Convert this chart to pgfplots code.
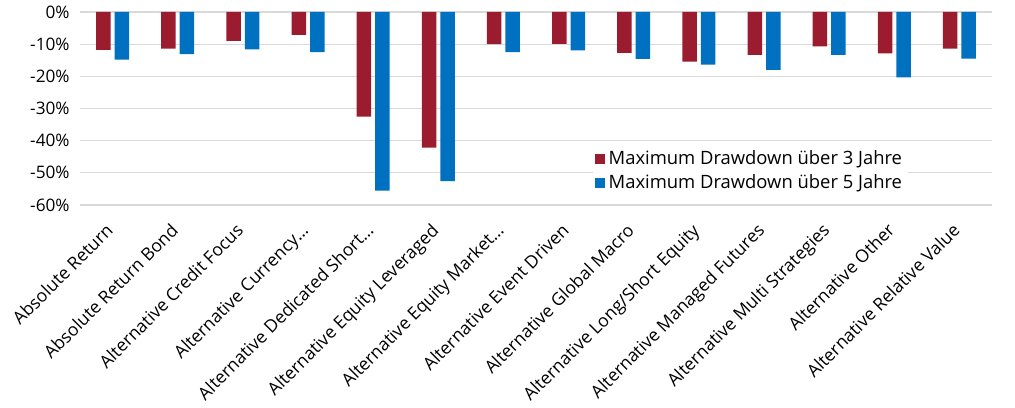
\documentclass[border=0pt]{standalone}
\usepackage{pgfplots}
\pgfplotsset{compat=1.18}
\usepackage{fontspec}
\setmainfont{Open Sans}
\definecolor{myred}{HTML}{9B1C2E}
\definecolor{myblue}{HTML}{0070C0}
\definecolor{gridgray}{HTML}{D9D9D9}
\begin{document}
\begin{tikzpicture}
\begin{axis}[
  scale only axis,
  width=456pt, height=96.5pt,
  ybar=2pt, bar width=7.25pt,
  xmin=-0.5, xmax=13.5, ymin=-60, ymax=0,
  xtick={0,...,13},
  xticklabels={Absolute Return,Absolute Return Bond,Alternative Credit Focus,Alternative Currency…,Alternative Dedicated Short…,Alternative Equity Leveraged,Alternative Equity Market…,Alternative Event Driven,Alternative Global Macro,Alternative Long/Short Equity,Alternative Managed Futures,Alternative Multi Strategies,Alternative Other,Alternative Relative Value},
  xticklabel style={xshift=-4pt, yshift=-7pt, rotate=45, anchor=north east, inner sep=1pt, font=\fontsize{8.8}{10}\selectfont},
  ytick={-60,-50,...,0},
  yticklabels={-60\%,-50\%,-40\%,-30\%,-20\%,-10\%,0\%},
  yticklabel style={font=\fontsize{8.6}{10}\selectfont, inner sep=1pt, xshift=-4pt},
  xmajorgrids=false,
  ymajorgrids=true,
  y grid style={gridgray, line width=0.6pt},
  axis line style={draw=none},
  major tick length=0pt,
  tick style={draw=none},
  legend style={at={(0.735,0.175)}, anchor=center, draw=none, fill=white, font=\fontsize{9.2}{10}\selectfont, row sep=0.5pt, inner sep=1pt, nodes={inner xsep=2pt, inner ysep=1.5pt}},
  legend cell align=left,
  legend image code/.code={\fill[#1] (0pt,-2.5pt) rectangle (5pt,2.5pt);},
  clip=false,
]
\addplot[fill=myred, draw=none] coordinates {(0,-11.8) (1,-11.4) (2,-9.0) (3,-7.1) (4,-32.5) (5,-42.2) (6,-10.0) (7,-9.9) (8,-12.7) (9,-15.4) (10,-13.3) (11,-10.7) (12,-12.9) (13,-11.4)};
\addplot[fill=myblue, draw=none] coordinates {(0,-14.8) (1,-13.1) (2,-11.6) (3,-12.5) (4,-55.5) (5,-52.6) (6,-12.5) (7,-11.9) (8,-14.6) (9,-16.4) (10,-18.0) (11,-13.3) (12,-20.3) (13,-14.5)};
\legend{Maximum Drawdown über 3 Jahre, Maximum Drawdown über 5 Jahre}
\coordinate (bl) at (rel axis cs:0,0);
\coordinate (tr) at (rel axis cs:1,1);
\end{axis}
\pgfresetboundingbox
\path ([shift={(-40pt,-101.5pt)}]bl) rectangle ([shift={(11.5pt,6pt)}]tr);
\end{tikzpicture}
\end{document}
